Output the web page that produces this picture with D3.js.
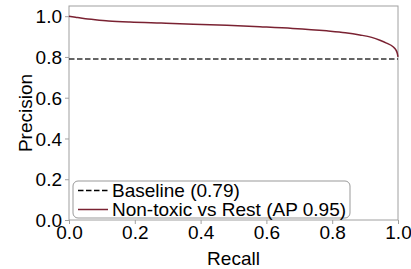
<!DOCTYPE html>
<html lang="en">
<head>
    <meta charset="UTF-8">
    <title>PR curve</title>
    <style>
        * { margin: 0; padding: 0; }
        html, body { overflow: hidden; background: #fff; }
        text { font-family: "Liberation Sans", Arial, sans-serif; }
    </style>
</head>
<body>
    <div id="chart"></div>
    <script src="https://cdn.jsdelivr.net/npm/d3@7"></script>
    <script>
        // data
        const recall = [0, 0.02, 0.05, 0.074, 0.12, 0.185, 0.28, 0.378, 0.48, 0.58, 0.68, 0.783, 0.84, 0.884, 0.92, 0.945, 0.965, 0.985, 0.993, 0.998, 1.0]
        const precision = [1.0, 0.995, 0.988, 0.984, 0.977, 0.971, 0.966, 0.961, 0.955, 0.948, 0.94, 0.928, 0.919, 0.908, 0.896, 0.882, 0.868, 0.85, 0.836, 0.817, 0.80]
        const baseline = 0.79
        const xTicks = [0, 0.2, 0.4, 0.6, 0.8, 1.0]
        const yTicks = [0, 0.2, 0.4, 0.6, 0.8, 1.0]
        const legendLabels = ['Baseline (0.79)', 'Non-toxic vs Rest (AP 0.95)']

        function drawChart() {
            const width = 411, height = 269
            const margin = { left: 69, right: 13, top: 6, bottom: 49 }
            const curveColor = '#7a2232'
            const fontSize = '19px'

            const svg = d3.select('#chart')
                .append('svg')
                .attr('width', width)
                .attr('height', height)

            const x = d3.scaleLinear().domain([0, 1]).range([margin.left, width - margin.right])
            const y = d3.scaleLinear().domain([0, 1.05]).range([height - margin.bottom, margin.top])

            // frame
            svg.append('rect')
                .attr('x', x(0))
                .attr('y', y(1.05))
                .attr('width', x(1) - x(0))
                .attr('height', y(0) - y(1.05))
                .attr('fill', 'none')
                .attr('stroke', '#a0a0a0')
                .attr('stroke-width', 1)

            const xAxis = svg.append('g')
                .attr('transform', `translate(0,${y(0)})`)
                .call(d3.axisBottom(x).tickValues(xTicks).tickFormat(d3.format('.1f')).tickSize(4).tickPadding(2))
            const yAxis = svg.append('g')
                .attr('transform', `translate(${x(0)},0)`)
                .call(d3.axisLeft(y).tickValues(yTicks).tickFormat(d3.format('.1f')).tickSize(4).tickPadding(3))

            ;[xAxis, yAxis].forEach(a => {
                a.select('.domain').remove()
                a.selectAll('line').attr('stroke', '#a0a0a0')
                a.selectAll('text')
                    .attr('fill', '#000')
                    .style('font-size', fontSize)
                    .style('font-family', '"Liberation Sans", Arial, sans-serif')
            })
            yAxis.selectAll('text').attr('dy', '0.35em')

            // baseline
            svg.append('line')
                .attr('x1', x(0))
                .attr('x2', x(1))
                .attr('y1', y(baseline))
                .attr('y2', y(baseline))
                .attr('stroke', '#333')
                .attr('stroke-width', 1.5)
                .attr('stroke-dasharray', '5.5,2.5')

            // curve
            const line = d3.line()
                .x((d, i) => x(recall[i]))
                .y(d => y(d))
                .curve(d3.curveMonotoneX)
            svg.append('path')
                .datum(precision)
                .attr('d', line)
                .attr('fill', 'none')
                .attr('stroke', curveColor)
                .attr('stroke-width', 1.5)

            // axis labels
            svg.append('text')
                .attr('x', (x(0) + x(1)) / 2)
                .attr('y', 265)
                .attr('text-anchor', 'middle')
                .style('font-size', fontSize)
                .text('Recall')
            svg.append('text')
                .attr('transform', `translate(32,${(y(0) + y(1.05)) / 2}) rotate(-90)`)
                .attr('text-anchor', 'middle')
                .style('font-size', fontSize)
                .text('Precision')

            // legend
            const legend = svg.append('g').attr('transform', `translate(${x(0) + 4},${y(0) - 39})`)
            legend.append('rect')
                .attr('width', 277)
                .attr('height', 37)
                .attr('rx', 5)
                .attr('fill', '#fff')
                .attr('fill-opacity', 0.8)
                .attr('stroke', '#999')
                .attr('stroke-width', 1)

            const items = legend.selectAll('g.item')
                .data(legendLabels)
                .join('g')
                .attr('class', 'item')
                .attr('transform', (d, i) => `translate(0,${9.5 + i * 19})`)

            items.append('line')
                .attr('x1', 5)
                .attr('x2', 35)
                .attr('stroke', (d, i) => i === 0 ? '#000' : curveColor)
                .attr('stroke-width', 1.5)
                .attr('stroke-dasharray', (d, i) => i === 0 ? '5.5,2.5' : null)

            items.append('text')
                .attr('x', 39)
                .attr('dy', '0.35em')
                .style('font-size', fontSize)
                .text(d => d)
        }

        drawChart()
    </script>
</body>
</html>
